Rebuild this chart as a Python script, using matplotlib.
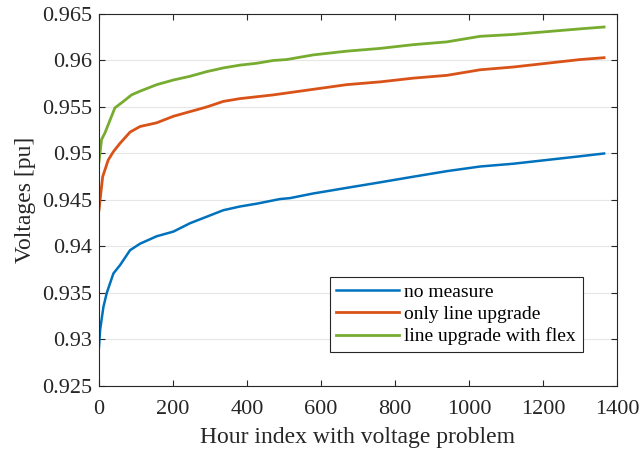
import matplotlib
matplotlib.use("Agg")
import matplotlib.pyplot as plt

plt.rcParams['font.family'] = ['Liberation Serif', 'DejaVu Serif']
plt.rcParams['mathtext.fontset'] = 'stix'

# Data
x_blue = [0, 3, 12, 21, 39, 57, 84, 111, 156, 201, 246, 291, 336, 381, 426, 489, 516,
          579, 669, 760, 849, 940, 1030, 1120, 1210, 1300, 1365]
y_blue = [0.9292, 0.9310, 0.9335, 0.9350, 0.9371, 0.9380, 0.9396, 0.9403, 0.9411, 0.9416,
          0.9425, 0.9432, 0.9439, 0.9443, 0.9446, 0.9451, 0.9452,
          0.9457, 0.9463, 0.9469, 0.9475, 0.9481, 0.9486, 0.9489, 0.9493, 0.9497, 0.9500]

x_orange = [0, 3, 10, 25, 39, 57, 84, 111, 156, 201, 246, 291, 336, 381, 426, 471, 507,
            579, 669, 760, 849, 940, 1030, 1120, 1210, 1300, 1365]
y_orange = [0.9439, 0.9450, 0.9475, 0.9493, 0.9502, 0.9511, 0.9523, 0.9529, 0.9533, 0.9540,
            0.9545, 0.9550, 0.9556, 0.9559, 0.9561, 0.9563, 0.9565,
            0.9569, 0.9574, 0.9577, 0.9581, 0.9584, 0.9590, 0.9593, 0.9597, 0.9601, 0.9603]

x_green = [0, 7, 16, 30, 43, 66, 88, 111, 156, 201, 246, 291, 336, 381, 426, 471, 507,
           579, 669, 760, 849, 940, 1030, 1120, 1210, 1300, 1365]
y_green = [0.9491, 0.9515, 0.9522, 0.9536, 0.9549, 0.9556, 0.9563, 0.9567, 0.9574, 0.9579,
           0.9583, 0.9588, 0.9592, 0.9595, 0.9597, 0.9600, 0.9601,
           0.9606, 0.9610, 0.9613, 0.9617, 0.9620, 0.9626, 0.9628, 0.9631, 0.9634, 0.9636]

labels = ['no measure', 'only line upgrade', 'line upgrade with flex']
colors = ['#0072BD', '#D95319', '#77AC30']
xticks = [0, 200, 400, 600, 800, 1000, 1200, 1400]
yticks = [0.925, 0.93, 0.935, 0.94, 0.945, 0.95, 0.955, 0.96, 0.965]
ytick_labels = ['0.925', '0.93', '0.935', '0.94', '0.945', '0.95', '0.955', '0.96', '0.965']

fig = plt.figure(figsize=(6.41, 4.54), dpi=100)
ax = fig.add_axes([0.1544, 0.1498, 0.8082, 0.8194])

ax.plot(x_blue, y_blue, color=colors[0], lw=1.8, label=labels[0])
ax.plot(x_orange, y_orange, color=colors[1], lw=2.0, label=labels[1])
ax.plot(x_green, y_green, color=colors[2], lw=2.0, label=labels[2])

ax.set_xlim(0, 1400)
ax.set_ylim(0.925, 0.965)
ax.set_xticks(xticks)
ax.set_xticklabels([str(t) for t in xticks])
ax.set_yticks(yticks)
ax.set_yticklabels(ytick_labels)
ax.yaxis.grid(True, color='#e6e6e6', lw=0.8)
ax.set_axisbelow(True)
ax.tick_params(direction='in', top=True, right=True, length=4, width=0.8,
               labelsize=16, colors='#262626', labelcolor='#262626', pad=5)
ax.tick_params(axis='x', pad=10)
for s in ax.spines.values():
    s.set_color('#262626')
    s.set_linewidth(0.8)

ax.set_xlabel('Hour index with voltage problem', fontsize=17, color='#262626', labelpad=6)
ax.set_ylabel('Voltages [pu]', fontsize=17, color='#262626', labelpad=4)

leg = ax.legend(loc='lower right', bbox_to_anchor=(0.934, 0.091), fontsize=14,
                fancybox=False, edgecolor='#262626', framealpha=1,
                handlelength=3.2, handletextpad=0.3, borderpad=0.35, labelspacing=0.22,
                borderaxespad=0)
leg.get_frame().set_linewidth(0.8)

fig.savefig('out.png', dpi=100)
